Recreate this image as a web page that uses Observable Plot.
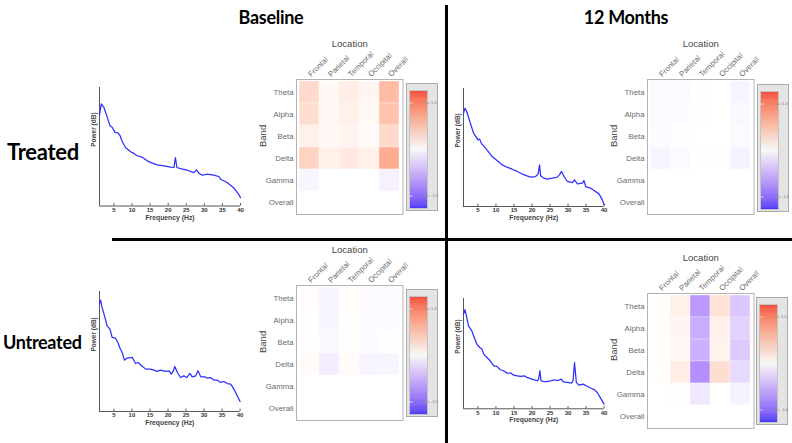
<!DOCTYPE html>
<html>
<head>
<meta charset="utf-8">
<script src="https://cdn.jsdelivr.net/npm/d3@7"></script>
<script src="https://cdn.jsdelivr.net/npm/@observablehq/plot@0.6"></script>
<style>
  html, body { margin: 0; padding: 0; background: #fff; }
  #fig { position: relative; width: 792px; height: 443px; overflow: hidden; background: #fff; font-family: "Liberation Sans", Arial, sans-serif; }
  .title { position: absolute; font-family: Lato, "Open Sans", sans-serif; font-weight: bold; font-size: 18px; line-height: 18px; color: #000; white-space: nowrap; letter-spacing: -0.3px; }
  .bar { position: absolute; background: #000; }
</style>
</head>
<body>
<div id="fig"></div>
<script>
// ---------- categories / ticks ----------
const bands = ["Theta", "Alpha", "Beta", "Delta", "Gamma", "Overall"];
const locations = ["Frontal", "Parietal", "Temporal", "Occipital", "Overall"];
const specTicks = [5, 10, 15, 20, 25, 30, 35, 40];
const colorTicks = [-1, 1];
const colorLimit = 1.27;

// ---------- power spectra (relative dB) ----------
const treatedBaselineHz = [1.0,1.5,2.2,3.0,3.9,4.5,5.3,6.1,6.7,7.3,8.2,9.6,10.5,11.4,12.8,14.2,15.6,17.0,18.8,20.7,21.6,22.0,22.4,23.4,25.3,27.1,27.8,28.5,29.4,30.8,32.6,34.0,34.5,36.3,38.1,39.5,40.0];
const treatedBaselineDb = [76.8,86.2,83.3,76.3,67.8,66.4,62.1,61.6,59.3,54.2,49.4,45.8,44.4,42.4,41.2,38.1,36.2,34.7,33.9,32.8,32.5,40.9,32.5,31.6,30.2,28.2,30.5,27.7,26.0,26.8,26.0,24.9,22.6,19.8,15.5,9.9,7.1];

const treated12mHz = [1.0,1.4,1.9,2.9,3.8,4.7,5.0,5.5,5.9,7.5,8.9,10.3,11.7,13.1,14.5,15.9,17.2,18.6,19.6,21.0,21.7,22.1,22.4,23.3,24.2,25.6,27.0,27.6,28.2,28.9,29.8,31.2,31.8,32.6,34.0,34.4,34.9,36.3,37.2,38.6,39.5,40.0];
const treated12mDb = [79.1,83.3,80.5,70.6,62.1,57.9,56.5,57.1,53.7,48.0,42.4,39.0,35.3,33.3,31.6,29.7,27.7,26.0,24.9,25.4,27.7,35.3,26.0,24.0,23.2,24.0,24.9,26.8,29.7,25.4,21.2,20.3,22.6,19.2,19.8,22.0,16.9,15.5,13.6,10.7,5.6,1.4];

const untreatedBaselineHz = [1.0,1.3,1.7,2.4,3.1,3.9,4.5,5.4,6.1,6.6,7.3,7.9,8.7,10.1,11.0,11.7,12.4,13.8,15.2,16.1,17.0,17.9,19.3,20.3,20.9,21.5,21.9,22.6,23.5,24.4,25.2,26.1,26.7,27.7,28.3,29.1,30.2,30.9,31.8,32.8,33.7,34.6,35.5,36.5,37.4,38.3,39.2,40.0];
const untreatedBaselineDb = [89.5,92.8,86.7,79.7,71.4,68.6,61.7,61.1,57.5,53.3,49.2,42.8,44.5,45.0,40.0,40.8,38.9,35.3,35.3,34.5,33.4,34.5,33.4,33.9,31.2,33.9,37.5,32.5,28.3,29.7,28.3,31.7,28.9,29.7,33.9,28.9,28.9,27.8,28.3,26.1,26.1,24.2,25.0,23.3,22.8,18.6,13.1,8.3];

const untreated12mHz = [1.0,1.4,1.9,2.4,3.3,3.8,4.7,5.5,6.1,6.6,7.5,8.4,9.4,10.3,11.2,12.1,13.1,14.2,14.9,15.9,16.8,17.9,18.6,20.0,21.4,21.8,22.2,22.5,23.7,25.1,26.3,27.0,28.1,28.7,29.8,31.0,31.4,31.8,32.3,33.0,34.2,35.4,36.5,37.4,38.1,38.9,40.0];
const untreated12mDb = [85.8,89.8,82.8,75.2,70.7,66.2,58.6,55.6,54.1,49.6,46.5,43.5,39.0,38.4,35.4,34.5,32.3,32.3,30.5,29.9,29.3,29.9,28.4,26.9,25.4,26.3,34.5,25.4,24.5,25.4,26.3,25.4,26.9,24.5,23.9,23.3,25.4,42.0,23.9,21.5,22.4,20.2,18.4,17.2,14.8,10.3,4.2];

// ---------- heatmap values (rows = bands, cols = locations) ----------
const treatedBaselineHeat = [
  [0.25, 0.05, 0.12, 0.06, 0.45],
  [0.22, 0.05, 0.10, 0.05, 0.40],
  [0.10, 0.05, 0.07, 0.04, 0.25],
  [0.30, 0.10, 0.15, 0.10, 0.55],
  [-0.05, 0.00, 0.00, 0.00, -0.08],
  [0.00, 0.00, 0.00, 0.00, 0.00]
];
const treated12mHeat = [
  [-0.03, -0.03, 0.01, 0.00, -0.06],
  [-0.03, -0.02, 0.01, 0.00, -0.04],
  [-0.02, -0.01, 0.00, 0.00, -0.03],
  [-0.06, -0.03, 0.01, -0.01, -0.07],
  [0.00, 0.00, 0.00, 0.00, 0.00],
  [0.00, 0.00, 0.00, 0.00, 0.00]
];
const untreatedBaselineHeat = [
  [0.02, -0.06, 0.02, -0.03, -0.02],
  [0.01, -0.05, 0.01, -0.02, -0.02],
  [0.01, -0.04, 0.01, -0.02, -0.01],
  [0.03, -0.10, 0.03, -0.06, -0.05],
  [0.00, 0.00, 0.00, 0.00, 0.00],
  [0.00, 0.00, 0.00, 0.00, 0.00]
];
const untreated12mHeat = [
  [0.01, 0.10, -0.55, 0.20, -0.30],
  [0.01, 0.06, -0.45, 0.10, -0.25],
  [0.01, 0.05, -0.42, 0.08, -0.28],
  [0.01, 0.12, -0.60, 0.22, -0.20],
  [0.00, 0.01, -0.12, 0.00, -0.07],
  [0.00, 0.00, 0.00, 0.00, 0.00]
];

// ---------- helpers ----------
const fig = document.getElementById("fig");
const FONT = "'Liberation Sans', Arial, sans-serif";
const colorScale = {
  type: "linear",
  domain: [-colorLimit, 0, colorLimit],
  range: ["#0000ff", "#ffffff", "#ff0000"],
  interpolate: "lab"
};

function place(node, x, y) {
  node.style.position = "absolute";
  node.style.left = x + "px";
  node.style.top = y + "px";
  fig.appendChild(node);
}

function spectrum(hz, db, axL, axR, axT, axB) {
  const mL = 22, mR = 10, mT = 4, mB = 22;
  const data = hz.map((h, i) => ({hz: h, db: db[i]}));
  const p = Plot.plot({
    width: (axR - axL) + mL + mR,
    height: (axB - axT) + mT + mB,
    marginLeft: mL, marginRight: mR, marginTop: mT, marginBottom: mB,
    style: {background: "transparent", fontFamily: FONT, fontSize: "6px", fontWeight: "bold", color: "#333", overflow: "visible"},
    x: {domain: [1, 40], ticks: specTicks, tickSize: 0, tickPadding: 1.5, label: null, tickFormat: d => String(d)},
    y: {domain: [0, 100], axis: null},
    marks: [
      Plot.ruleX([1], {stroke: "#555", strokeWidth: 1}),
      Plot.ruleY([0], {stroke: "#555", strokeWidth: 1}),
      Plot.ruleX(specTicks, {y1: 0, y2: 2, stroke: "#555"}),
      Plot.line(data, {x: "hz", y: "db", stroke: "#2e2eff", strokeWidth: 1.25}),
      Plot.text(["Power (dB)"], {text: d => d, frameAnchor: "left", rotate: -90, dx: -6, fontSize: 6.5, fontWeight: "bold", fill: "#444"}),
      Plot.text(["Frequency (Hz)"], {text: d => d, frameAnchor: "bottom", dy: 13.5, fontSize: 6.8, fontWeight: "bold", fill: "#444"})
    ]
  });
  place(p, axL - mL, axT - mT);
}

function heatmap(vals, cL, cT) {
  const cellW = 20.7, cellH = 22, ins = 1.5;
  const mL = 62, mT = 48, mR = 3, mB = 3;
  const data = bands.flatMap((b, i) => locations.map((l, j) => ({band: b, loc: l, v: vals[i][j]})));
  const p = Plot.plot({
    width: cellW * 5 + 2 * ins + mL + mR,
    height: cellH * 6 + 2 * ins + mT + mB,
    marginLeft: mL, marginTop: mT, marginRight: mR, marginBottom: mB,
    style: {background: "transparent", fontFamily: FONT, fontSize: "7.8px", color: "#6a6a6a", overflow: "visible"},
    x: {domain: locations, axis: "top", tickRotate: -45, tickSize: 0, tickPadding: 4, label: null, inset: ins, padding: 0},
    y: {domain: bands, tickSize: 0, tickPadding: 3, label: null, inset: ins, padding: 0},
    color: colorScale,
    marks: [
      Plot.cell(data, {x: "loc", y: "band", fill: "v", inset: 0, stroke: "#fff", strokeOpacity: 0.5, strokeWidth: 0.6}),
      Plot.frame({stroke: "#b3b3b3"}),
      Plot.text(["Location"], {text: d => d, frameAnchor: "top", dy: -39, fontSize: 9.5, fill: "#444"}),
      Plot.text(["Band"], {text: d => d, frameAnchor: "left", rotate: -90, dx: -34, fontSize: 9.5, fill: "#444"})
    ]
  });
  place(p, cL - ins - mL, cT - ins - mT);
}

function colorbar(left, top) {
  const steps = d3.range(-colorLimit, colorLimit, 0.01);
  const p = Plot.plot({
    width: 30, height: 126,
    marginLeft: 2, marginRight: 10, marginTop: 6, marginBottom: 2,
    style: {background: "#e4e4e4", border: "1px solid #a9a9a9", fontFamily: FONT, overflow: "visible"},
    x: {domain: [0, 1], axis: null},
    y: {domain: [-colorLimit, colorLimit], axis: null},
    color: colorScale,
    marks: [
      Plot.rect(steps, {x1: 0, x2: 1, y1: d => d, y2: d => Math.min(d + 0.0105, colorLimit), fill: d => d + 0.005}),
      Plot.frame({stroke: "#c4c4c4"}),
      Plot.ruleY(colorTicks, {x1: 0, x2: 0.22, stroke: "#fff", strokeOpacity: 0.6}),
      Plot.ruleY(colorTicks, {x1: 0.78, x2: 1.15, stroke: "#999", strokeOpacity: 0.8}),
      Plot.text(colorTicks, {x: 1.2, y: d => d, text: d => d.toFixed(1), textAnchor: "start", fontSize: 4, fill: "#777"})
    ]
  });
  place(p, left, top);
}

function title(text, x, y, anchor, size) {
  const d = document.createElement("div");
  d.className = "title";
  d.textContent = text;
  d.style.top = y + "px";
  if (size) { d.style.fontSize = size + "px"; d.style.lineHeight = size + "px"; }
  if (anchor === "center") { d.style.left = x + "px"; d.style.transform = "translateX(-50%)"; }
  else d.style.left = x + "px";
  fig.appendChild(d);
}

function bar(x, y, w, h) {
  const d = document.createElement("div");
  d.className = "bar";
  Object.assign(d.style, {left: x + "px", top: y + "px", width: w + "px", height: h + "px"});
  fig.appendChild(d);
}

// ---------- layout ----------
title("Baseline", 271, 8, "center");
title("12 Months", 626, 8, "center");
title("Treated", 7, 141, "left", 22);
title("Untreated", 3, 333, "left");

bar(445, 5, 3, 438);
bar(112, 238, 680, 3);

spectrum(treatedBaselineHz, treatedBaselineDb, 99, 240, 87, 205.5);
spectrum(treated12mHz, treated12mDb, 462.7, 603.3, 87.7, 205.7);
spectrum(untreatedBaselineHz, untreatedBaselineDb, 98.7, 239.3, 290.7, 410.7);
spectrum(untreated12mHz, untreated12mDb, 462.7, 603.3, 297.7, 408);

heatmap(treatedBaselineHeat, 297.3, 80.7);
heatmap(treated12mHeat, 648.3, 80.7);
heatmap(untreatedBaselineHeat, 297.3, 286);
heatmap(untreated12mHeat, 648.3, 294);

colorbar(405.5, 83);
colorbar(756.5, 84.3);
colorbar(406, 289);
colorbar(756, 296.7);
</script>
</body>
</html>
